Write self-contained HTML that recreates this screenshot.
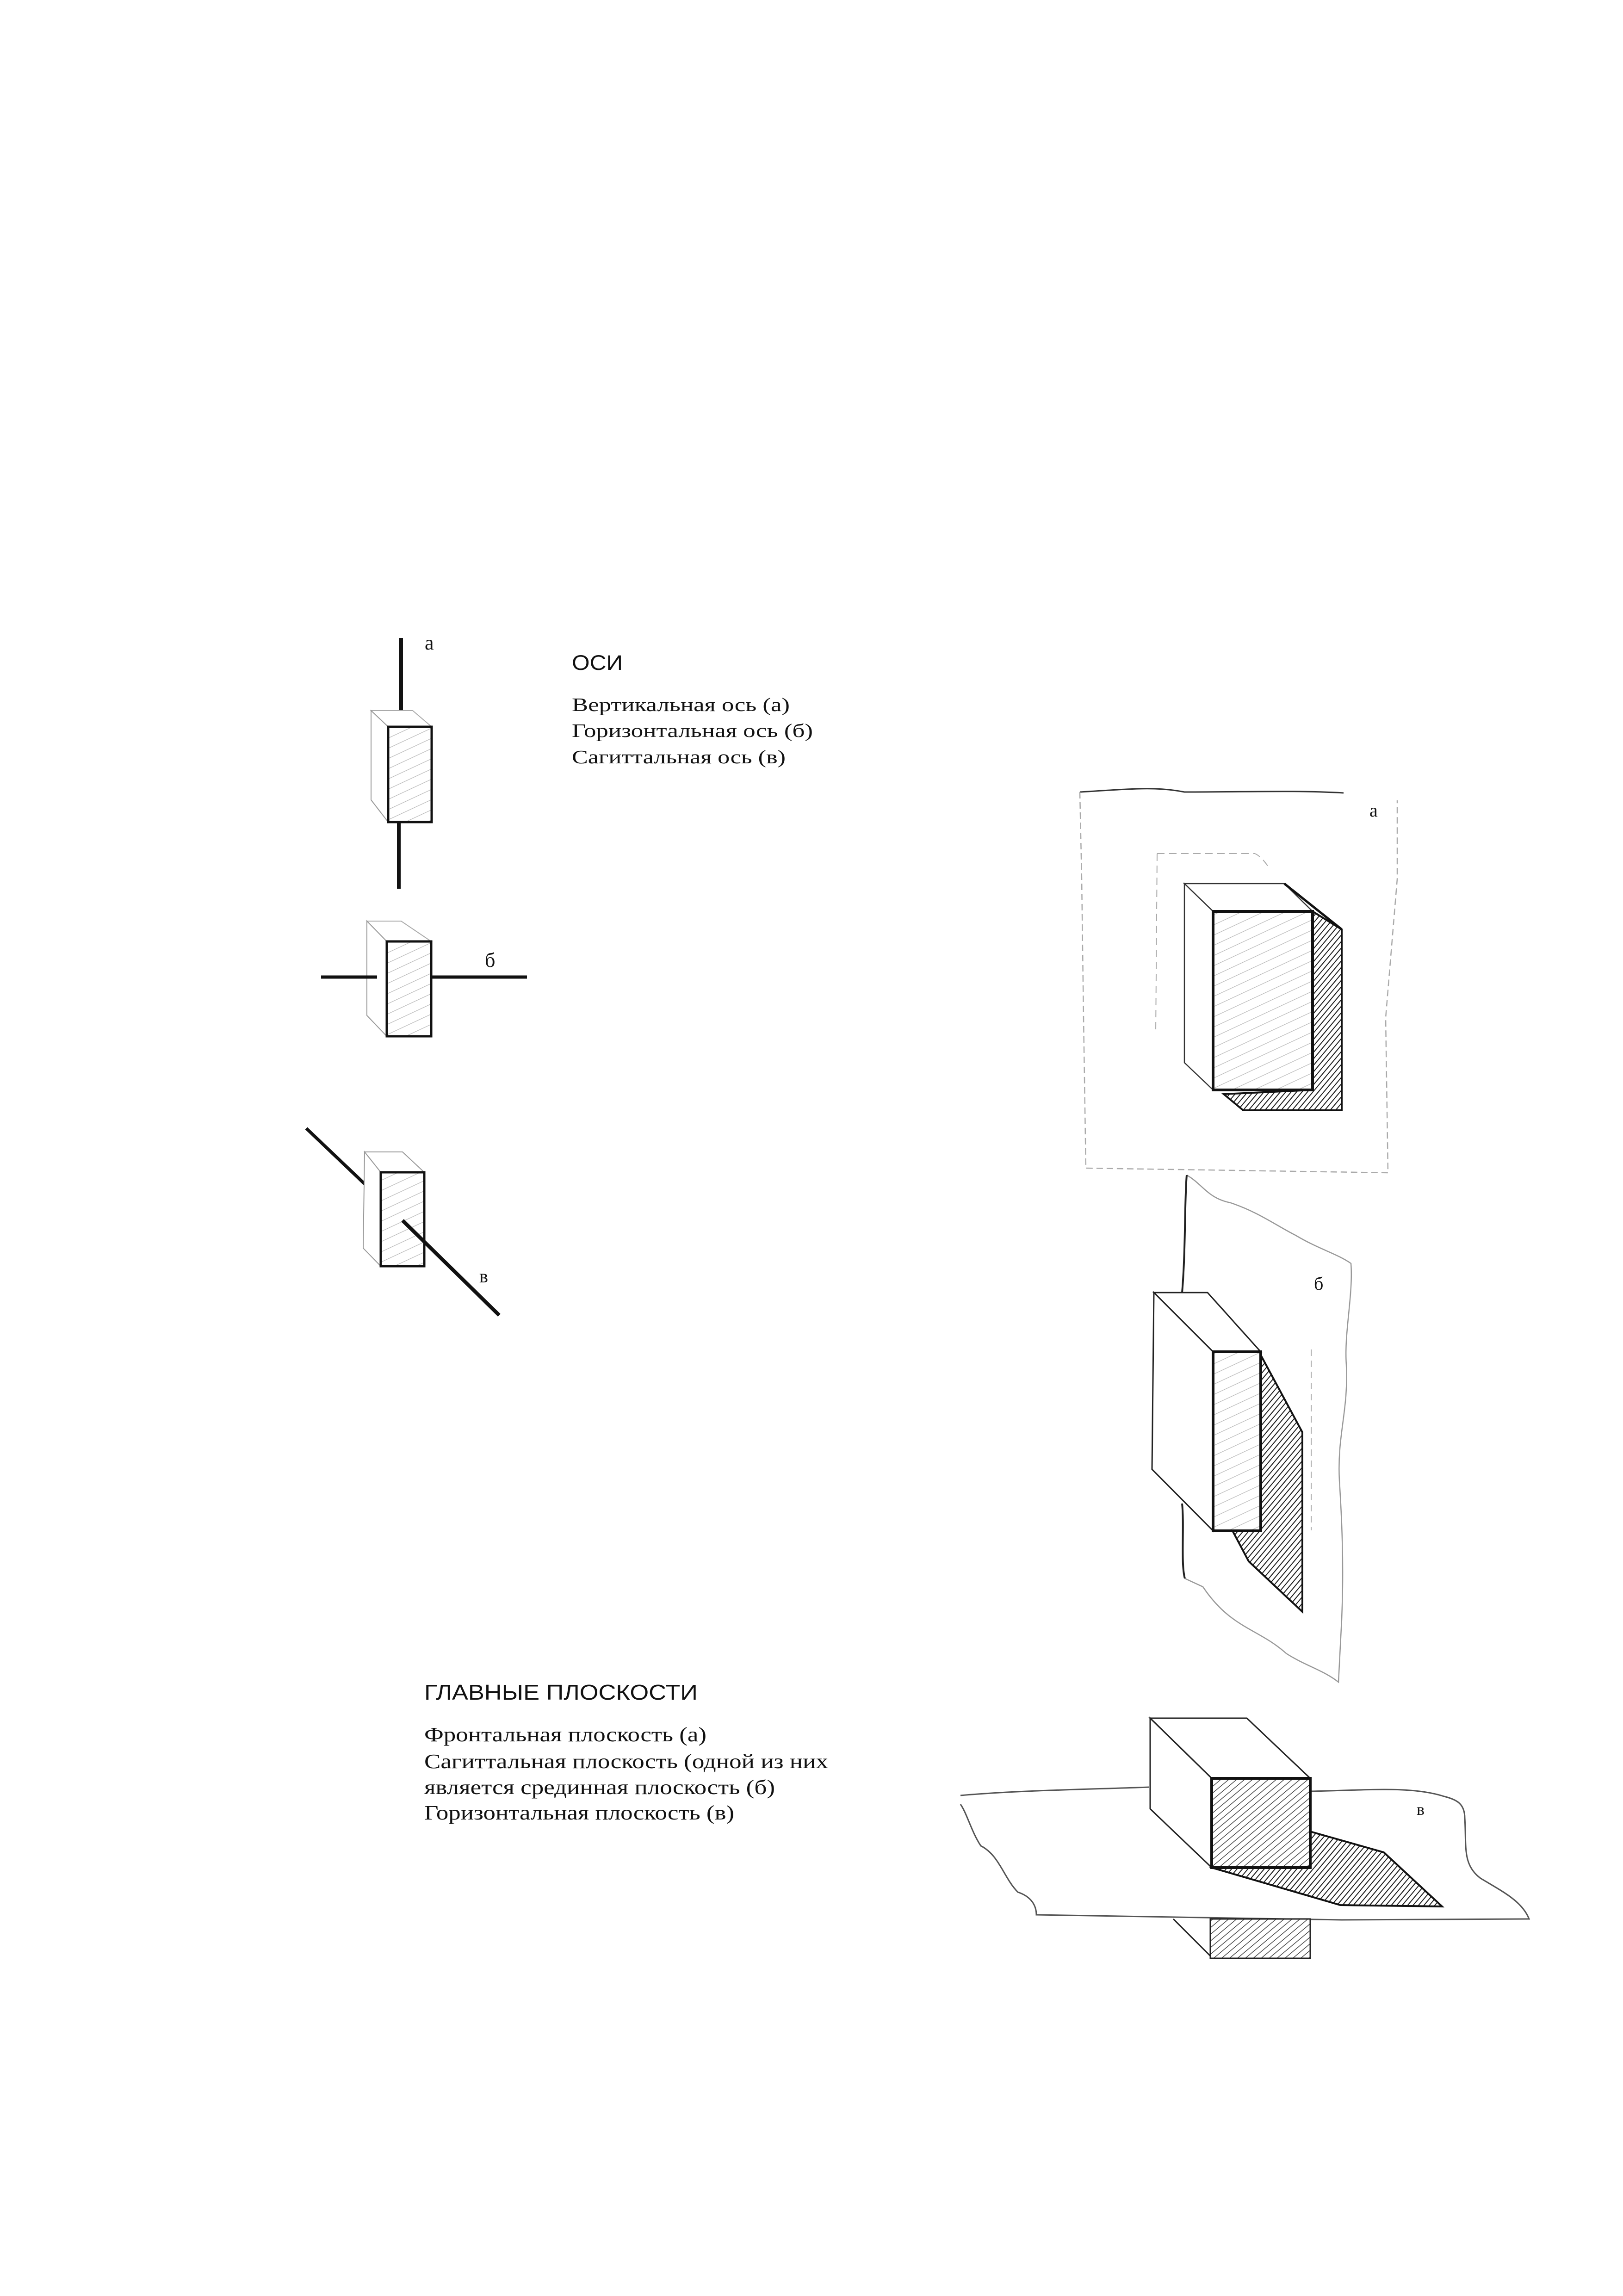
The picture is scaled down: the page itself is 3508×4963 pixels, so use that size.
<!DOCTYPE html>
<html><head><meta charset="utf-8"><style>
html,body{margin:0;padding:0;background:#fff;}
svg{display:block;}
.t{font-family:"Liberation Sans",sans-serif;fill:#111;}
.s{font-family:"Liberation Serif",serif;fill:#111;}
</style></head><body>
<svg width="3508" height="4963" viewBox="0 0 3508 4963" xmlns="http://www.w3.org/2000/svg">
<defs>
<pattern id="lh" patternUnits="userSpaceOnUse" width="20" height="20" patternTransform="rotate(-25)">
<rect width="20" height="20" fill="#fff"/>
<line x1="0" y1="0" x2="20" y2="0" stroke="#b8b8b8" stroke-width="2.5"/></pattern>
<pattern id="dh" patternUnits="userSpaceOnUse" width="9" height="9" patternTransform="rotate(-50)">
<line x1="0" y1="0" x2="9" y2="0" stroke="#1a1a1a" stroke-width="4"/></pattern>
<pattern id="mh" patternUnits="userSpaceOnUse" width="11" height="11" patternTransform="rotate(-40)">
<rect width="11" height="11" fill="#fff"/>
<line x1="0" y1="0" x2="11" y2="0" stroke="#444" stroke-width="3"/></pattern>
</defs>
<rect width="3508" height="4963" fill="#fff"/>

<line x1="867" y1="1379" x2="867" y2="1554" stroke="#111" stroke-width="8"/>
<line x1="862" y1="1777" x2="862" y2="1921" stroke="#111" stroke-width="8"/>
<polygon points="802,1536 892,1536 933,1571 839,1571" fill="#fff" stroke="#aaa" stroke-width="2"/>
<polygon points="802,1536 839,1571 839,1777 802,1729" fill="#fff" stroke="#999" stroke-width="2"/>
<rect x="839" y="1571" width="94" height="206" fill="url(#lh)" stroke="#111" stroke-width="5"/>
<text class="s" x="918" y="1404" font-size="44">а</text>

<polygon points="793,1991 867,1991 932,2035 836,2035" fill="#fff" stroke="#aaa" stroke-width="2"/>
<polygon points="793,1991 836,2035 836,2240 793,2195" fill="#fff" stroke="#999" stroke-width="2"/>
<rect x="836" y="2035" width="96" height="205" fill="url(#lh)" stroke="#111" stroke-width="5"/>
<line x1="694" y1="2112" x2="815" y2="2112" stroke="#111" stroke-width="7"/>
<line x1="929" y1="2112" x2="1139" y2="2112" stroke="#111" stroke-width="7"/>
<text class="s" x="1048" y="2090" font-size="44">б</text>

<line x1="662" y1="2439" x2="788" y2="2559" stroke="#111" stroke-width="7"/>
<polygon points="788,2490 870,2490 917,2534 823,2534" fill="#fff" stroke="#999" stroke-width="2"/>
<polygon points="788,2490 823,2534 823,2737 785,2698" fill="#fff" stroke="#999" stroke-width="2"/>
<rect x="823" y="2534" width="94" height="203" fill="url(#lh)" stroke="#111" stroke-width="5"/>
<line x1="870" y1="2638" x2="1079" y2="2843" stroke="#111" stroke-width="8"/>
<text class="s" x="1036" y="2772" font-size="40">в</text>

<text class="t" x="1236" y="1448" font-size="45" textLength="110" lengthAdjust="spacingAndGlyphs">ОСИ</text>
<text class="s" x="1236" y="1537" font-size="41" textLength="471" lengthAdjust="spacingAndGlyphs">Вертикальная ось (а)</text>
<text class="s" x="1236" y="1593" font-size="41" textLength="521" lengthAdjust="spacingAndGlyphs">Горизонтальная ось (б)</text>
<text class="s" x="1236" y="1650" font-size="41" textLength="462" lengthAdjust="spacingAndGlyphs">Сагиттальная ось (в)</text>

<text class="t" x="917" y="3674" font-size="46" textLength="591" lengthAdjust="spacingAndGlyphs">ГЛАВНЫЕ ПЛОСКОСТИ</text>
<text class="s" x="917" y="3764" font-size="44" textLength="610" lengthAdjust="spacingAndGlyphs">Фронтальная плоскость (а)</text>
<text class="s" x="917" y="3822" font-size="44" textLength="873" lengthAdjust="spacingAndGlyphs">Сагиттальная плоскость (одной из них</text>
<text class="s" x="917" y="3878" font-size="44" textLength="758" lengthAdjust="spacingAndGlyphs">является срединная плоскость (б)</text>
<text class="s" x="917" y="3933" font-size="44" textLength="670" lengthAdjust="spacingAndGlyphs">Горизонтальная плоскость (в)</text>

<path d="M2334,1712 C2450,1705 2500,1700 2560,1712 C2700,1712 2800,1708 2904,1714" fill="none" stroke="#333" stroke-width="3"/>
<path d="M2334,1712 L2338,1900 L2342,2200 L2347,2525 L3000,2535 L2995,2200 L3020,1900 L3020,1730" fill="none" stroke="#aaa" stroke-width="2.5" stroke-dasharray="14 8"/>
<text class="s" x="2960" y="1765" font-size="40">а</text>
<path d="M2501,1845 L2712,1845 C2725,1850 2740,1870 2745,1880 M2501,1845 L2498,2233" fill="none" stroke="#aaa" stroke-width="2" stroke-dasharray="16 10"/>
<polygon points="2837,1970 2900,2009 2900,2400 2687,2400 2645,2365 2837,2356" fill="url(#dh)" stroke="#111" stroke-width="4"/>
<polygon points="2560,1910 2776,1910 2837,1970 2622,1970" fill="#fff" stroke="#333" stroke-width="2.5"/>
<polygon points="2560,1910 2622,1970 2622,2356 2560,2297" fill="#fff" stroke="#333" stroke-width="2.5"/>
<line x1="2776" y1="1910" x2="2900" y2="2009" stroke="#111" stroke-width="5"/>
<rect x="2622" y="1970" width="215" height="386" fill="url(#lh)" stroke="#111" stroke-width="6"/>

<path d="M2565,2540 C2600,2560 2610,2590 2660,2600 C2720,2620 2760,2650 2800,2670 C2850,2700 2890,2710 2920,2731 C2925,2800 2905,2880 2910,2950 C2915,3050 2890,3100 2895,3200 C2900,3280 2905,3380 2900,3500 L2893,3636 C2860,3610 2820,3600 2780,3574 C2720,3520 2660,3520 2600,3430 L2561,3412" fill="none" stroke="#999" stroke-width="2.5"/>
<path d="M2565,2540 C2560,2600 2563,2700 2555,2794 M2555,3250 C2560,3300 2552,3380 2561,3412" fill="none" stroke="#222" stroke-width="4"/>
<text class="s" x="2840" y="2788" font-size="40">б</text>
<line x1="2834" y1="2917" x2="2834" y2="3308" stroke="#aaa" stroke-width="2" stroke-dasharray="14 10"/>
<polygon points="2725,2929 2815,3096 2815,3484 2699,3375 2664,3309 2725,3309" fill="url(#dh)" stroke="#111" stroke-width="4"/>
<polygon points="2494,2794 2610,2794 2725,2922 2622,2922" fill="#fff" stroke="#222" stroke-width="3"/>
<polygon points="2494,2794 2622,2922 2622,3309 2490,3176" fill="#fff" stroke="#222" stroke-width="3"/>
<rect x="2622" y="2922" width="103" height="387" fill="url(#lh)" stroke="#111" stroke-width="6"/>

<path d="M2076,3881 C2200,3870 2350,3868 2484,3863 M2834,3872 C2950,3870 3050,3860 3121,3883 C3150,3890 3166,3900 3166,3930 C3170,3990 3160,4030 3200,4060 C3250,4090 3290,4110 3305,4148 L2900,4150 L2240,4139 C2240,4120 2230,4100 2200,4090 C2170,4060 2160,4010 2120,3990 C2100,3960 2090,3920 2076,3900" fill="none" stroke="#555" stroke-width="3"/>
<text class="s" x="3062" y="3923" font-size="36">в</text>
<polygon points="2832,3959 2991,4004 3117,4121 2897,4118 2619,4037" fill="url(#dh)" stroke="#111" stroke-width="4"/>
<polygon points="2486,3714 2695,3714 2832,3844 2619,3844" fill="#fff" stroke="#222" stroke-width="3"/>
<polygon points="2486,3714 2619,3844 2619,4037 2486,3910" fill="#fff" stroke="#222" stroke-width="3"/>
<rect x="2619" y="3844" width="213" height="193" fill="url(#mh)" stroke="#111" stroke-width="6"/>
<rect x="2616" y="4148" width="216" height="85" fill="url(#mh)" stroke="#222" stroke-width="3"/>
<line x1="2536" y1="4148" x2="2616" y2="4228" stroke="#222" stroke-width="3"/>
</svg>
</body></html>
